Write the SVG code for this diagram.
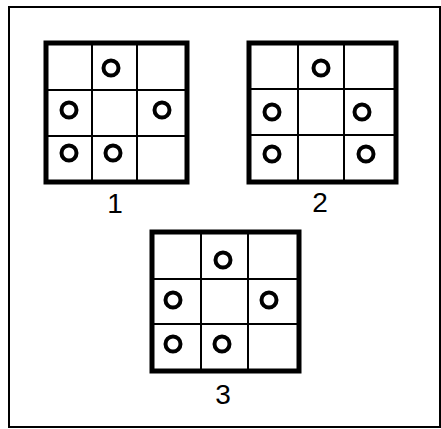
<svg xmlns="http://www.w3.org/2000/svg" width="441" height="429" viewBox="0 0 441 429">
<style>
.frame{fill:none;stroke:#000;stroke-width:2}
.outer{fill:none;stroke:#000;stroke-width:5}
.inner{stroke:#000;stroke-width:2}
.dot{fill:none;stroke:#000;stroke-width:4}
.lbl{font-family:"Liberation Sans",Arial,sans-serif;font-size:28px;text-anchor:middle;fill:#000}
</style>
<rect width="441" height="429" fill="#fff"/>
<rect class="frame" x="9" y="7" width="431" height="420"/>
<g id="grid1">
<rect class="outer" x="46" y="43" width="141" height="139"/>
<line class="inner" x1="92" y1="43" x2="92" y2="182"/>
<line class="inner" x1="137" y1="43" x2="137" y2="182"/>
<line class="inner" x1="46" y1="90" x2="187" y2="90"/>
<line class="inner" x1="46" y1="136" x2="187" y2="136"/>
<circle class="dot" cx="111" cy="68" r="7.5"/>
<circle class="dot" cx="69" cy="110" r="7.5"/>
<circle class="dot" cx="162" cy="110" r="7.5"/>
<circle class="dot" cx="69" cy="153" r="7.5"/>
<circle class="dot" cx="113" cy="153" r="7.5"/>
<text class="lbl" x="115" y="213">1</text>
</g>
<g id="grid2">
<rect class="outer" x="249" y="43" width="147" height="139"/>
<line class="inner" x1="298" y1="43" x2="298" y2="182"/>
<line class="inner" x1="344" y1="43" x2="344" y2="182"/>
<line class="inner" x1="249" y1="89" x2="396" y2="89"/>
<line class="inner" x1="249" y1="135" x2="396" y2="135"/>
<circle class="dot" cx="321" cy="68" r="7.5"/>
<circle class="dot" cx="272" cy="112" r="7.5"/>
<circle class="dot" cx="362" cy="112" r="7.5"/>
<circle class="dot" cx="272" cy="154" r="7.5"/>
<circle class="dot" cx="366" cy="154" r="7.5"/>
<text class="lbl" x="320" y="212">2</text>
</g>
<g id="grid3">
<rect class="outer" x="152" y="232" width="147" height="139"/>
<line class="inner" x1="201" y1="232" x2="201" y2="371"/>
<line class="inner" x1="248" y1="232" x2="248" y2="371"/>
<line class="inner" x1="152" y1="279" x2="299" y2="279"/>
<line class="inner" x1="152" y1="324" x2="299" y2="324"/>
<circle class="dot" cx="223" cy="260" r="7.5"/>
<circle class="dot" cx="173" cy="300" r="7.5"/>
<circle class="dot" cx="269" cy="300" r="7.5"/>
<circle class="dot" cx="173" cy="344" r="7.5"/>
<circle class="dot" cx="222" cy="344" r="7.5"/>
<text class="lbl" x="223" y="404">3</text>
</g>
<g id="connectors"/>
</svg>
